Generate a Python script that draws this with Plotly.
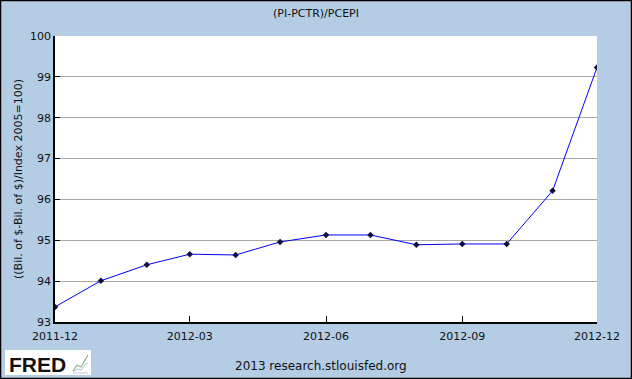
import plotly.graph_objects as go

dates = ["2011-12-01", "2012-01-01", "2012-02-01", "2012-03-01", "2012-04-01", "2012-05-01",
         "2012-06-01", "2012-07-01", "2012-08-01", "2012-09-01", "2012-10-01", "2012-11-01",
         "2012-12-01"]
values = [93.37, 94.01, 94.40, 94.66, 94.64, 94.96, 95.13, 95.13, 94.89, 94.91, 94.91, 96.21, 99.23]
x_tickvals = ["2011-12-01", "2012-03-01", "2012-06-01", "2012-09-01", "2012-12-01"]
x_ticktext = ["2011-12", "2012-03", "2012-06", "2012-09", "2012-12"]
y_tickvals = [93, 94, 95, 96, 97, 98, 99, 100]

W, H = 632, 379
L, R, T, B = 55, 35, 36, 57
pw, ph = W - L - R, H - T - B

def px(x):
    return (x - L) / pw

def py(y):
    return (H - B - y) / ph

BG = "#B4CDE4"
FONT = "DejaVu Sans"

fig = go.Figure()
fig.add_trace(go.Scatter(
    x=dates, y=values, mode="lines+markers",
    line=dict(color="#0000FF", width=1),
    marker=dict(symbol="diamond", size=5, color="#101040"),
    hoverinfo="x+y", showlegend=False,
))

shapes = [
    dict(type="rect", xref="paper", yref="paper", x0=px(0.5), x1=px(W - 0.5), y0=py(0.5), y1=py(H - 0.5),
         line=dict(color="black", width=1.5), fillcolor="rgba(0,0,0,0)", layer="above"),
    dict(type="rect", xref="paper", yref="paper", x0=px(5), x1=px(91), y0=py(350), y1=py(375),
         line=dict(width=0), fillcolor="white", layer="above"),
    dict(type="path", xref="paper", yref="paper",
         path=f"M {px(73)} {py(371)} L {px(77)} {py(365)} L {px(81)} {py(367)} L {px(85)} {py(360)} L {px(88)} {py(355)}",
         line=dict(color="#8FB08F", width=1.2), layer="above"),
    dict(type="path", xref="paper", yref="paper",
         path=f"M {px(73)} {py(372)} L {px(77)} {py(369)} L {px(81)} {py(370)} L {px(85)} {py(365)} L {px(88)} {py(363)}",
         line=dict(color="#A8C0D8", width=1), layer="above"),
    dict(type="path", xref="paper", yref="paper",
         path=f"M {px(73)} {py(373)} L {px(88)} {py(373)}",
         line=dict(color="#C8C8C8", width=1), layer="above"),
]

annotations = [
    dict(text="(PI-PCTR)/PCEPI", xref="paper", yref="paper", x=px(316), y=py(13),
         showarrow=False, font=dict(family=FONT, size=11, color="#111"), xanchor="center", yanchor="middle"),
    dict(text="((Bil. of $-Bil. of $)/Index 2005=100)", xref="paper", yref="paper", x=px(18), y=py(179),
         showarrow=False, textangle=-90, font=dict(family=FONT, size=11, color="#111"),
         xanchor="center", yanchor="middle"),
    dict(text="2013 research.stlouisfed.org", xref="paper", yref="paper", x=px(321), y=py(366),
         showarrow=False, font=dict(family=FONT, size=12, color="#111"), xanchor="center", yanchor="middle"),
    dict(text="<b>FRED</b>", xref="paper", yref="paper", x=px(7), y=py(364),
         showarrow=False, font=dict(family="Liberation Sans", size=21, color="#111"),
         xanchor="left", yanchor="middle"),
]

fig.update_layout(
    width=W, height=H,
    margin=dict(l=L, r=R, t=T, b=B),
    paper_bgcolor=BG, plot_bgcolor="white",
    shapes=shapes, annotations=annotations,
    xaxis=dict(
        range=["2011-12-01", "2012-12-01"], tickvals=x_tickvals, ticktext=x_ticktext,
        ticks="inside", ticklen=6, tickcolor="black", showgrid=False,
        showline=True, linecolor="black", linewidth=1.5, zeroline=False,
        tickfont=dict(family=FONT, size=11, color="#111"), ticklabelstandoff=3,
    ),
    yaxis=dict(
        range=[93, 100], tickvals=y_tickvals, ticks="inside", ticklen=5, tickcolor="black",
        showgrid=True, gridcolor="#A8A8A8", gridwidth=1,
        showline=True, linecolor="black", linewidth=1.5, zeroline=False,
        tickfont=dict(family=FONT, size=11, color="#111"),
    ),
)

fig.write_html("out.html", config={"displayModeBar": False},
               post_script="document.body.style.margin='0';document.body.style.overflow='hidden';")
